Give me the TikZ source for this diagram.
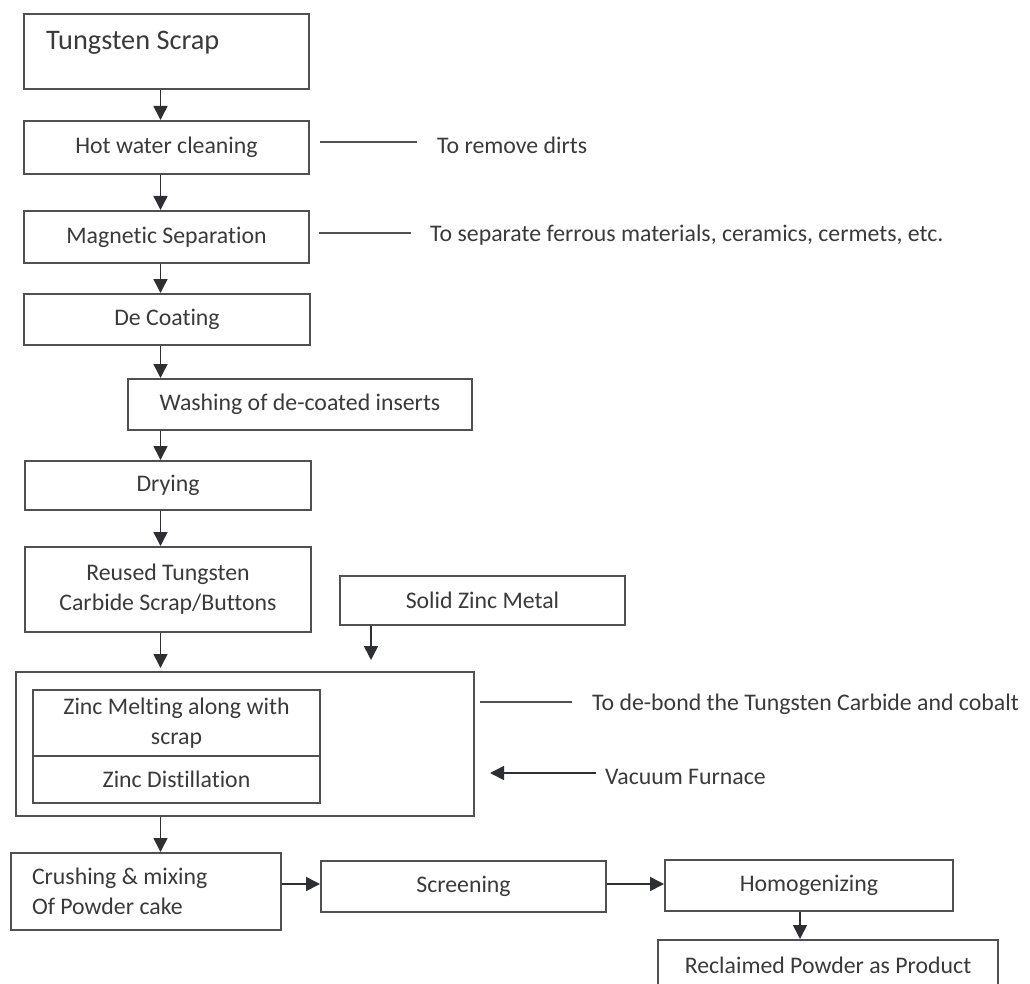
\documentclass[tikz,border=0pt]{standalone}
\usepackage{fontspec}
\setmainfont{Carlito}[Ligatures=NoCommon]
\usetikzlibrary{arrows.meta}
\definecolor{boxc}{HTML}{505050}
\definecolor{txtc}{HTML}{3A3A3A}
\definecolor{arrc}{HTML}{2E2E35}
\tikzset{
  proc/.style={draw=boxc, line width=2pt, anchor=north west, inner sep=0pt,
    text=txtc, font=\fontsize{23.8}{30}\selectfont, align=center},
  flow/.style={draw=arrc, line width=1.6pt, -{Triangle[width=14pt,length=14pt]}},
  note/.style={anchor=west, inner sep=0pt, text=txtc, font=\fontsize{23.8}{30}\selectfont},
  link/.style={draw=boxc, line width=2pt},
}
\begin{document}
\begin{tikzpicture}[x=1pt,y=-1pt]
\useasboundingbox (0,0) rectangle (1030,984);
\fill[white] (0,0) rectangle (1030,984);

% boxes
\node[proc, minimum width=285, minimum height=75] (ts) at (23,13) {};
\node[anchor=west, inner sep=0pt, text=txtc, font=\fontsize{28.3}{34}\selectfont] (tstext) at (46,43) {Tungsten Scrap};
\node[proc, minimum width=285, minimum height=53] (hw) at (23,120) {Hot water cleaning};
\node[proc, minimum width=285, minimum height=52] (ms) at (23,210) {Magnetic Separation};
\node[proc, minimum width=286, minimum height=51] (dc) at (23,293) {De Coating};
\node[proc, minimum width=344, minimum height=51] (wa) at (127,378) {Washing of de-coated inserts};
\node[proc, minimum width=286, minimum height=49] (dr) at (24,460) {Drying};
\node[proc, minimum width=286, minimum height=85] (ru) at (24,546) {Reused Tungsten\\Carbide Scrap/Buttons};
\node[proc, minimum width=285, minimum height=49] (sz) at (339,575) {Solid Zinc Metal};
\node[proc, minimum width=458, minimum height=144] (big) at (15,671) {};
\node[proc, minimum width=287, minimum height=66] (zm) at (32,689) {Zinc Melting along with\\scrap};
\node[proc, minimum width=287, minimum height=47] (zd) at (32,755) {Zinc Distillation};
\node[proc, minimum width=270, minimum height=77, text width=228, inner xsep=21pt, align=flush left] (cr) at (10,852) {Crushing \& mixing\\Of Powder cake};
\node[proc, minimum width=285, minimum height=51] (sc) at (320,860) {Screening};
\node[proc, minimum width=288, minimum height=51] (ho) at (664,859) {Homogenizing};
\node[proc, minimum width=340, minimum height=51] (rp) at (657,939) {Reclaimed Powder as Product};

% notes
\node[note] (t1) at (437,145) {To remove dirts};
\node[note] (t2) at (430,235) {To separate ferrous materials, ceramics, cermets, etc.};
\node[note] (t3) at (592,704) {To de-bond the Tungsten Carbide and cobalt};
\node[note] (t4) at (605,777) {Vacuum Furnace};

\coordinate (c1) at (160.5,0);
\coordinate (c2) at (371,0);
\coordinate (c3) at (800,0);
\coordinate (l1) at (0,142);
\coordinate (l2) at (0,233);
\coordinate (l3) at (0,702);
\coordinate (l4) at (0,773);
\coordinate (l5) at (0,884);

% flow arrows
\draw[flow] (ts.south -| c1) -- (hw.north -| c1);
\draw[flow] (hw.south -| c1) -- (ms.north -| c1);
\draw[flow] (ms.south -| c1) -- (dc.north -| c1);
\draw[flow] (dc.south -| c1) -- (wa.north -| c1);
\draw[flow] (wa.south -| c1) -- (dr.north -| c1);
\draw[flow] (dr.south -| c1) -- (ru.north -| c1);
\draw[flow, shorten >=3pt] (ru.south -| c1) -- (big.north -| c1);
\draw[flow, shorten >=11pt] (sz.south -| c2) -- (big.north -| c2);
\draw[flow] (big.south -| c1) -- (cr.north -| c1);
\draw[flow] (cr.east |- l5) -- (sc.west |- l5);
\draw[flow] (sc.east |- l5) -- (ho.west |- l5);
\draw[flow] (ho.south -| c3) -- (rp.north -| c3);

% side lines
\draw[link, shorten <=10pt, shorten >=20pt] (hw.east |- l1) -- (t1.west |- l1);
\draw[link, shorten <=9pt, shorten >=19pt] (ms.east |- l2) -- (t2.west |- l2);
\draw[link, shorten <=5pt, shorten >=20pt] (big.east |- l3) -- (t3.west |- l3);
\draw[flow, shorten <=9pt, shorten >=15pt] (t4.west |- l4) -- (big.east |- l4);
\end{tikzpicture}
\end{document}
